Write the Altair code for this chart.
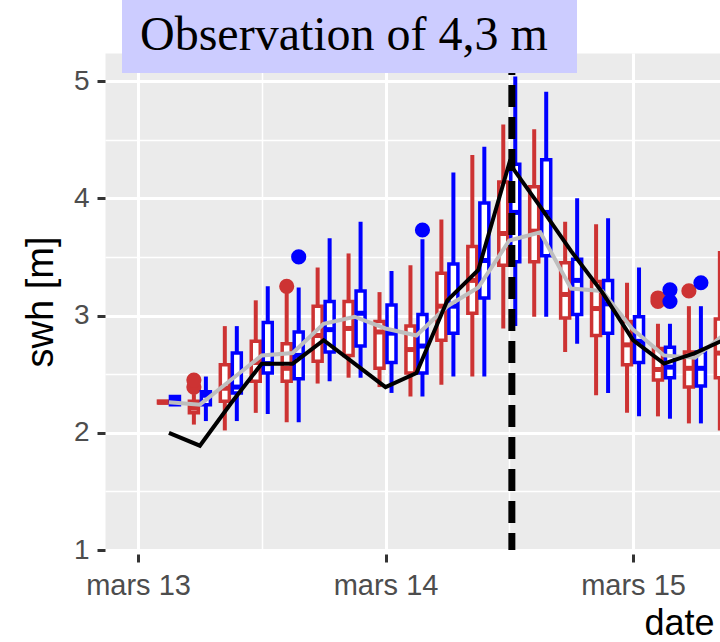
import altair as alt
import pandas as pd

# 3-hourly forecast times (UTC)
times = [
    "2019-03-13T03:00:00Z", "2019-03-13T06:00:00Z", "2019-03-13T09:00:00Z",
    "2019-03-13T12:00:00Z", "2019-03-13T15:00:00Z", "2019-03-13T18:00:00Z",
    "2019-03-13T21:00:00Z", "2019-03-14T00:00:00Z", "2019-03-14T03:00:00Z",
    "2019-03-14T06:00:00Z", "2019-03-14T09:00:00Z", "2019-03-14T12:00:00Z",
    "2019-03-14T15:00:00Z", "2019-03-14T18:00:00Z", "2019-03-14T21:00:00Z",
    "2019-03-15T00:00:00Z", "2019-03-15T03:00:00Z", "2019-03-15T06:00:00Z",
    "2019-03-15T09:00:00Z",
]

# Ensemble A (red) box statistics
red_lo  = [2.25, 2.07, 2.02, 2.17, 2.09, 2.42, 2.47, 2.39, 2.31, 2.41, 2.48, 2.89, 2.99, 2.69, 2.32, 2.17, 2.14, 2.08, 2.02]
red_q1  = [2.255, 2.17, 2.27, 2.44, 2.44, 2.61, 2.66, 2.55, 2.51, 2.79, 3.02, 3.43, 3.46, 2.98, 2.83, 2.58, 2.45, 2.39, 2.47]
red_med = [2.26, 2.21, 2.38, 2.60, 2.55, 2.83, 2.89, 2.86, 2.71, 3.08, 3.30, 3.70, 3.72, 3.18, 3.06, 2.75, 2.54, 2.55, 2.68]
red_q3  = [2.27, 2.27, 2.58, 2.78, 2.76, 3.08, 3.12, 2.95, 2.91, 3.36, 3.59, 4.14, 4.10, 3.45, 3.29, 2.95, 2.72, 2.69, 2.97]
red_hi  = [2.275, 2.33, 2.91, 3.13, 3.20, 3.41, 3.53, 3.20, 3.43, 3.82, 4.37, 4.63, 4.59, 3.80, 3.78, 3.28, 2.93, 3.08, 3.55]

# Ensemble B (blue) box statistics
blue_lo  = [2.23, 2.10, 2.10, 2.16, 2.09, 2.44, 2.47, 2.34, 2.31, 2.48, 2.48, 2.91, 2.99, 2.76, 2.34, 2.14, 2.12, 2.08]
blue_q1  = [2.24, 2.24, 2.34, 2.51, 2.46, 2.69, 2.74, 2.60, 2.51, 2.85, 3.15, 3.46, 3.51, 3.01, 2.85, 2.60, 2.47, 2.40]
blue_med = [2.28, 2.32, 2.39, 2.59, 2.66, 2.88, 3.02, 2.85, 2.74, 3.08, 3.47, 3.88, 3.88, 3.30, 3.10, 2.78, 2.56, 2.55]
blue_q3  = [2.31, 2.35, 2.68, 2.94, 2.86, 3.12, 3.21, 3.09, 3.01, 3.44, 3.96, 4.29, 4.33, 3.48, 3.30, 2.99, 2.73, 2.69]
blue_hi  = [2.32, 2.48, 2.91, 3.25, 3.24, 3.66, 3.80, 3.38, 3.65, 4.22, 4.44, 5.04, 4.91, 4.00, 3.83, 3.41, 2.93, 3.08]

# Outliers
red_out_time = ["2019-03-13T06:00:00Z", "2019-03-13T06:00:00Z", "2019-03-13T15:00:00Z",
                "2019-03-15T03:00:00Z", "2019-03-15T03:00:00Z", "2019-03-15T06:00:00Z"]
red_out_val = [2.39, 2.45, 3.25, 3.12, 3.15, 3.21]
blue_out_time = ["2019-03-13T15:00:00Z", "2019-03-14T03:00:00Z",
                 "2019-03-15T03:00:00Z", "2019-03-15T03:00:00Z", "2019-03-15T06:00:00Z"]
blue_out_val = [3.50, 3.73, 3.12, 3.22, 3.28]

# Observed significant wave height and ensemble mean
obs = [2.00, 1.89, 2.25, 2.59, 2.59, 2.79, 2.59, 2.39, 2.51, 3.13, 3.39, 4.30,
       3.93, 3.55, 3.20, 2.79, 2.59, 2.68, 2.80]
ens_mean = [2.26, 2.24, 2.45, 2.66, 2.68, 2.93, 2.99, 2.89, 2.83, 3.08, 3.24, 3.64,
            3.71, 3.23, 3.21, 2.88, 2.66, 2.64, 2.85]

peak_time = ["2019-03-14T12:15:00Z"]

RED = "#CD3333"
BLUE = "#0000FF"
LABEL_FONT = "Liberation Sans"

red_df = pd.DataFrame({"time": times, "lo": red_lo, "q1": red_q1, "med": red_med,
                       "q3": red_q3, "hi": red_hi})
blue_df = pd.DataFrame({"time": times[:len(blue_lo)], "lo": blue_lo, "q1": blue_q1,
                        "med": blue_med, "q3": blue_q3, "hi": blue_hi})
red_out = pd.DataFrame({"time": red_out_time, "val": red_out_val})
blue_out = pd.DataFrame({"time": blue_out_time, "val": blue_out_val})
line_df = pd.DataFrame({"time": times, "obs": obs, "mean": ens_mean})
peak_df = pd.DataFrame({"time": peak_time})

title_text = "Observation of " + f"{max(obs):.1f}".replace(".", ",") + " m"
title_df = pd.DataFrame({"label": [title_text]})


def ms(stamp):
    return int(pd.Timestamp(stamp).value // 10**6)


def dt(d, h=0, m=0):
    return alt.DateTime(year=2019, month=3, date=d, hours=h, minutes=m, utc=True)


X_SCALE = alt.Scale(type="utc", domain=[ms("2019-03-12T20:48:00Z"), ms("2019-03-15T08:26:00Z")],
                    nice=False, padding=0)
Y_SCALE = alt.Scale(domain=[1, 5.24], nice=False, zero=False, padding=0)


def xt(axis=None):
    return alt.X("time:T", scale=X_SCALE, axis=axis)


# Minor grid
minor = alt.Chart(line_df).mark_point(opacity=0).encode(
    x=xt(alt.Axis(orient="bottom", values=[dt(13, 12), dt(14, 12), dt(15, 12)],
                  grid=True, gridColor="white", gridWidth=1.5, labels=False,
                  ticks=False, domain=False, title=None)),
    y=alt.Y("obs:Q", scale=Y_SCALE,
            axis=alt.Axis(orient="left", values=[1.5, 2.5, 3.5, 4.5], grid=True,
                          gridColor="white", gridWidth=1.5, labels=False,
                          ticks=False, domain=False, title=None)),
)

# Major grid, ticks, labels and titles
major = alt.Chart(line_df).mark_point(opacity=0).encode(
    x=xt(alt.Axis(orient="bottom", values=[dt(13), dt(14), dt(15)],
                  grid=True, gridColor="white", gridWidth=3, domain=False,
                  offset=4, tickSize=8, tickWidth=3, tickColor="#333333",
                  labelExpr="'mars ' + utcFormat(datum.value, '%d')",
                  labelFont=LABEL_FONT, labelFontSize=29, labelColor="#4D4D4D",
                  labelPadding=9, labelBaseline="top",
                  title="date", titleFont=LABEL_FONT, titleFontSize=36,
                  titleFontWeight="normal", titleColor="black",
                  titleX=574, titleY=80, titleAlign="center",
                  titleBaseline="alphabetic")),
    y=alt.Y("obs:Q", scale=Y_SCALE,
            axis=alt.Axis(orient="left", values=[1, 2, 3, 4, 5], grid=True,
                          gridColor="white", gridWidth=3, domain=False,
                          tickSize=8, tickWidth=3, tickColor="#333333",
                          labelFont=LABEL_FONT, labelFontSize=28,
                          labelColor="#4D4D4D", labelPadding=8,
                          title="swh [m]", titleFont=LABEL_FONT, titleFontSize=38,
                          titleFontWeight="normal", titleColor="black",
                          titleX=-53, titleY=248.5, titleAngle=-90,
                          titleAlign="center", titleBaseline="alphabetic")),
)


def box_layers(df, out_df, color, dx):
    base = alt.Chart(df)
    whisk = base.mark_rule(color=color, strokeWidth=4, xOffset=dx, clip=True).encode(
        x=xt(), y=alt.Y("lo:Q", scale=Y_SCALE, axis=None), y2="hi:Q")
    box = base.mark_bar(size=9, fill="white", stroke=color, strokeWidth=3.5,
                        xOffset=dx, clip=True).encode(
        x=xt(), y=alt.Y("q1:Q", scale=Y_SCALE, axis=None), y2="q3:Q")
    med = base.mark_tick(orient="horizontal", size=11, thickness=5, color=color,
                         opacity=1, xOffset=dx, clip=True).encode(
        x=xt(), y=alt.Y("med:Q", scale=Y_SCALE, axis=None))
    outl = alt.Chart(out_df).mark_circle(size=230, color=color, opacity=1,
                                         xOffset=dx, clip=True).encode(
        x=xt(), y=alt.Y("val:Q", scale=Y_SCALE, axis=None))
    return [whisk, box, med, outl]


mean_line = alt.Chart(line_df).mark_line(color="#BEBEBE", strokeWidth=4, clip=True).encode(
    x=xt(), y=alt.Y("mean:Q", scale=Y_SCALE, axis=None))
obs_line = alt.Chart(line_df).mark_line(color="black", strokeWidth=4, clip=True).encode(
    x=xt(), y=alt.Y("obs:Q", scale=Y_SCALE, axis=None))
peak_rule = alt.Chart(peak_df).mark_rule(color="black", strokeWidth=7,
                                         strokeDash=[22, 10], clip=True).encode(x=xt())

title_box = alt.Chart(title_df).mark_rect(color="#CCCCFF").encode(
    x=alt.value(17), x2=alt.value(472), y=alt.value(-53), y2=alt.value(20))
title_label = alt.Chart(title_df).mark_text(
    font="Liberation Serif", fontSize=48, align="left", baseline="alphabetic",
    color="black").encode(x=alt.value(35), y=alt.value(-3), text="label:N")

layers = ([minor, major]
          + box_layers(red_df, red_out, RED, -6)
          + box_layers(blue_df, blue_out, BLUE, 6)
          + [mean_line, obs_line, peak_rule, title_box, title_label])

chart = alt.layer(*layers).resolve_axis(
    x="independent", y="independent"
).properties(
    width=615, height=497,
    padding={"left": 105, "top": 53, "right": 0, "bottom": 92},
    autosize=alt.AutoSizeParams(type="none"),
    background="white",
).configure_view(fill="#EBEBEB", stroke="transparent")

chart.save("out.html", embed_options={"renderer": "svg", "actions": False})
